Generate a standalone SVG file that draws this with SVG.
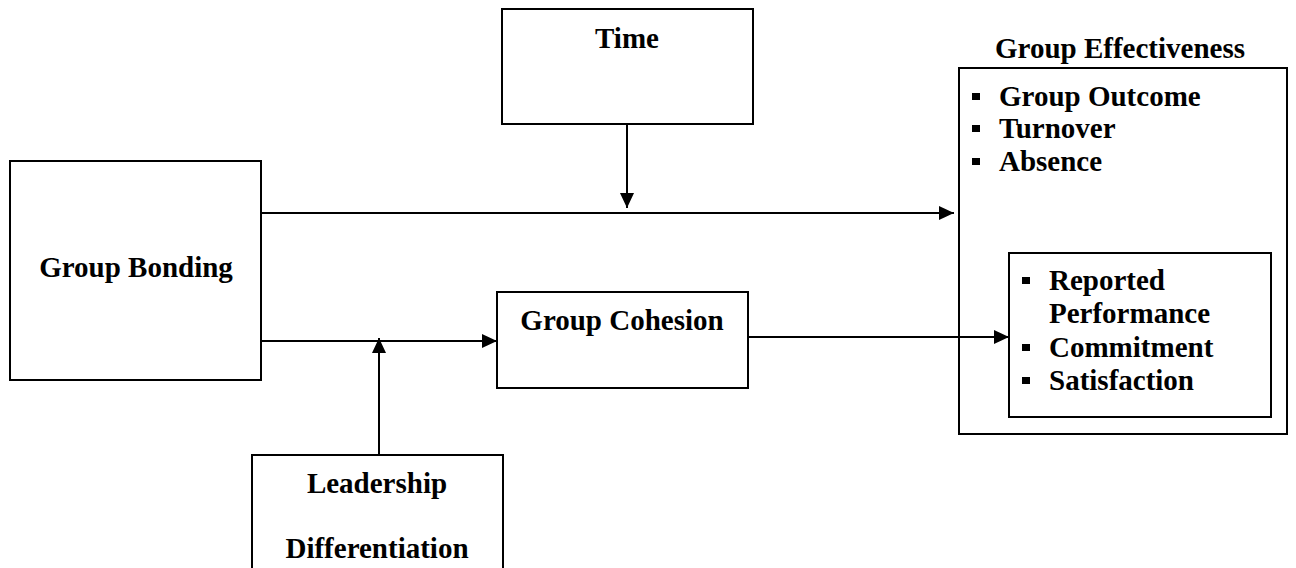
<svg xmlns="http://www.w3.org/2000/svg" width="1296" height="568" viewBox="0 0 1296 568">
<style>
.box{fill:#fff;stroke:#000;stroke-width:2}
.t{font-family:"Liberation Serif","Times New Roman",serif;font-weight:bold;font-size:29px;fill:#000}
.c{text-anchor:middle}
.ln{stroke:#000;stroke-width:2;fill:none}
.b{fill:#000}
</style>
<defs>
<marker id="ah" viewBox="0 0 15 14" refX="15" refY="7" markerWidth="15" markerHeight="14" markerUnits="userSpaceOnUse" orient="auto">
<path d="M0,0 L15,7 L0,14 Z" fill="#000"/>
</marker>
</defs>
<rect width="1296" height="568" fill="#fff"/>
<g id="time">
<rect class="box" x="502" y="9" width="251" height="115"/>
<text class="t c" x="627" y="48">Time</text>
</g>
<g id="group-bonding">
<rect class="box" x="10" y="161" width="251" height="219"/>
<text class="t c" x="136" y="277">Group Bonding</text>
</g>
<g id="group-cohesion">
<rect class="box" x="497" y="292" width="251" height="96"/>
<text class="t c" x="622" y="330">Group Cohesion</text>
</g>
<g id="leadership-differentiation">
<rect class="box" x="252" y="455" width="251" height="130"/>
<text class="t c" x="377" y="493">Leadership</text>
<text class="t c" x="377" y="558">Differentiation</text>
</g>
<g id="group-effectiveness">
<text class="t c" x="1120" y="58">Group Effectiveness</text>
<rect class="box" x="959" y="68" width="328" height="366"/>
<rect class="b" x="972" y="93" width="8" height="7"/>
<text class="t" x="999" y="106">Group Outcome</text>
<rect class="b" x="972" y="125" width="8" height="7"/>
<text class="t" x="999" y="138">Turnover</text>
<rect class="b" x="972" y="158" width="8" height="7"/>
<text class="t" x="999" y="171">Absence</text>
</g>
<g id="group-effectiveness-inner">
<rect class="box" x="1009" y="253" width="262" height="164"/>
<rect class="b" x="1022" y="277" width="8" height="7"/>
<text class="t" x="1049" y="290">Reported</text>
<text class="t" x="1049" y="323">Performance</text>
<rect class="b" x="1022" y="344" width="8" height="7"/>
<text class="t" x="1049" y="357">Commitment</text>
<rect class="b" x="1022" y="377" width="8" height="7"/>
<text class="t" x="1049" y="390">Satisfaction</text>
</g>
<g id="connectors">
<line class="ln" x1="261" y1="213" x2="954" y2="213" marker-end="url(#ah)"/>
<line class="ln" x1="627" y1="124" x2="627" y2="208" marker-end="url(#ah)"/>
<line class="ln" x1="261" y1="341" x2="497" y2="341" marker-end="url(#ah)"/>
<line class="ln" x1="379" y1="455" x2="379" y2="338" marker-end="url(#ah)"/>
<line class="ln" x1="748" y1="337" x2="1009" y2="337" marker-end="url(#ah)"/>
</g>
</svg>
